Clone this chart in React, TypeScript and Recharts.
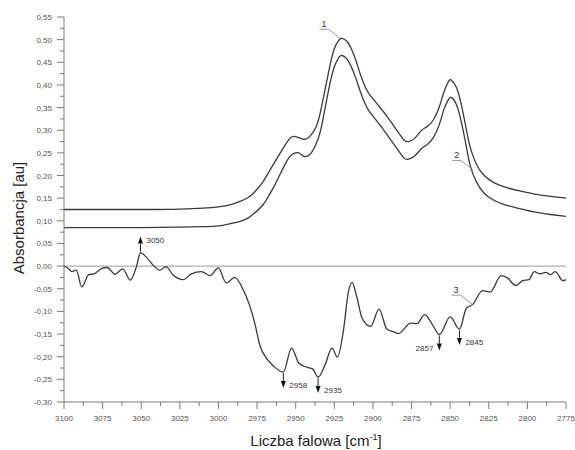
import React from "react";
import { ComposedChart, Line, XAxis, YAxis, ReferenceLine, ReferenceDot } from "recharts";

// ---- data ----
const wn1 = [3100, 3050, 3025, 3010, 3000, 2992, 2986, 2981, 2977, 2971, 2967, 2963, 2958, 2953.5, 2950, 2946, 2942, 2937, 2934, 2931, 2928, 2925, 2922, 2920, 2917, 2914, 2911, 2908, 2905, 2902, 2896, 2891, 2885, 2880, 2877, 2873, 2869, 2865, 2861, 2857, 2854, 2851, 2849, 2846, 2843, 2840, 2837, 2833, 2828, 2822, 2815, 2805, 2795, 2785, 2775];
const abs1 = [0.125, 0.125, 0.126, 0.128, 0.131, 0.136, 0.143, 0.151, 0.162, 0.187, 0.210, 0.233, 0.261, 0.283, 0.286, 0.281, 0.283, 0.306, 0.340, 0.390, 0.440, 0.480, 0.499, 0.503, 0.497, 0.480, 0.454, 0.422, 0.396, 0.378, 0.353, 0.331, 0.302, 0.279, 0.275, 0.282, 0.298, 0.308, 0.322, 0.352, 0.385, 0.408, 0.410, 0.395, 0.360, 0.310, 0.262, 0.225, 0.200, 0.185, 0.175, 0.166, 0.159, 0.154, 0.150];

const wn2 = [3100, 3050, 3025, 3010, 3000, 2992, 2986, 2981, 2977, 2971, 2967, 2963.4, 2957, 2952.6, 2948, 2945, 2941, 2937, 2934, 2931, 2928, 2925, 2922, 2920, 2917, 2914, 2911, 2908, 2905, 2902, 2896, 2891, 2885, 2880, 2877, 2873, 2869, 2865, 2861, 2857, 2854, 2851, 2849, 2846, 2843, 2840, 2837, 2833, 2828, 2822, 2815, 2805, 2795, 2785, 2775];
const abs2 = [0.085, 0.085, 0.086, 0.087, 0.089, 0.094, 0.099, 0.106, 0.116, 0.136, 0.158, 0.180, 0.224, 0.246, 0.250, 0.243, 0.246, 0.268, 0.298, 0.348, 0.400, 0.440, 0.461, 0.465, 0.458, 0.440, 0.414, 0.384, 0.358, 0.340, 0.314, 0.291, 0.262, 0.239, 0.236, 0.243, 0.258, 0.268, 0.283, 0.313, 0.346, 0.368, 0.372, 0.357, 0.322, 0.272, 0.222, 0.186, 0.161, 0.146, 0.136, 0.127, 0.119, 0.114, 0.110];

const wn3 = [3100, 3097, 3095, 3092, 3088.5, 3084, 3080.5, 3076, 3072, 3067, 3062, 3057, 3053, 3050.5, 3047, 3042.5, 3038, 3034, 3029.5, 3023, 3017.5, 3011, 3005.5, 3000, 2995, 2989.5, 2984, 2980, 2976.5, 2973, 2969, 2964.5, 2958, 2952.7, 2948, 2943, 2939, 2935.5, 2931, 2926.5, 2923, 2919, 2916, 2913.5, 2910.5, 2907, 2901.5, 2896, 2891, 2887.5, 2883.5, 2875.5, 2871.5, 2866.5, 2861.5, 2857, 2850, 2844, 2839.5, 2835.5, 2829, 2824, 2817, 2813, 2807.5, 2803, 2799, 2795.5, 2792, 2788, 2785, 2782, 2777, 2775];
const abs3 = [0.000, -0.006, -0.012, -0.009, -0.046, -0.019, -0.017, -0.006, -0.003, -0.018, -0.006, -0.031, 0.000, 0.030, 0.021, 0.003, -0.009, -0.001, -0.019, -0.030, -0.017, -0.012, -0.021, -0.004, -0.037, -0.025, -0.052, -0.085, -0.126, -0.177, -0.203, -0.220, -0.234, -0.181, -0.214, -0.223, -0.227, -0.245, -0.218, -0.181, -0.201, -0.140, -0.059, -0.036, -0.067, -0.115, -0.133, -0.095, -0.139, -0.144, -0.149, -0.126, -0.127, -0.107, -0.129, -0.151, -0.112, -0.139, -0.093, -0.085, -0.054, -0.057, -0.021, -0.026, -0.043, -0.032, -0.030, -0.012, -0.017, -0.014, -0.019, -0.012, -0.032, -0.030];

const xMajorTicks = [3100, 3075, 3050, 3025, 3000, 2975, 2950, 2925, 2900, 2875, 2850, 2825, 2800, 2775];
const xMinorTicks = [3087.5, 3062.5, 3037.5, 3012.5, 2987.5, 2962.5, 2937.5, 2912.5, 2887.5, 2862.5, 2837.5, 2812.5, 2787.5];
const yMajorTicks = [-0.3, -0.25, -0.2, -0.15, -0.1, -0.05, 0, 0.05, 0.1, 0.15, 0.2, 0.25, 0.3, 0.35, 0.4, 0.45, 0.5, 0.55];
const yMinorTicks = [-0.275, -0.225, -0.175, -0.125, -0.075, -0.025, 0.025, 0.075, 0.125, 0.175, 0.225, 0.275, 0.325, 0.375, 0.425, 0.475, 0.525];

// peak markers: wavenumber, value on curve 3, direction, label side
const markWn = [3050.5, 2958, 2935.5, 2857, 2844];
const markVal = [0.030, -0.234, -0.245, -0.151, -0.139];
const markLabels = ["3050", "2958", "2935", "2857", "2845"];
const markUp = [true, false, false, false, false];
const markLeft = [false, false, false, true, false];

// curve labels: anchor on curve
const curveLabels = ["1", "2", "3"];
const curveLabelWn = [2921, 2835, 2835.5];
const curveLabelVal = [0.502, 0.212, -0.085];

const FONT = "'Liberation Sans', Arial, Helvetica, sans-serif";
const AXIS = "#7a7a7a";
const LINE = "#3a3a3a";

const d1 = wn1.map((w, i) => ({ wn: w, v: abs1[i] }));
const d2 = wn2.map((w, i) => ({ wn: w, v: abs2[i] }));
const d3 = wn3.map((w, i) => ({ wn: w, v: abs3[i] }));

const isMajor = (arr: number[], v: number) => arr.some((m) => Math.abs(m - v) < 1e-6);

const YTick = (props: any) => {
  const { x, y, payload } = props;
  const major = isMajor(yMajorTicks, payload.value);
  return (
    <g>
      <line x1={x} x2={x - (major ? 7 : 4)} y1={y} y2={y} stroke={AXIS} strokeWidth={1} />
      {major && (
        <text x={x - 12} y={y + 3} textAnchor="end" fontSize={8} fill="#555" fontFamily={FONT}>
          {payload.value.toFixed(2).replace(".", ",")}
        </text>
      )}
    </g>
  );
};

const XTick = (props: any) => {
  const { x, y, payload } = props;
  const major = isMajor(xMajorTicks, payload.value);
  return (
    <g>
      <line x1={x} x2={x} y1={y} y2={y + (major ? 7 : 4)} stroke={AXIS} strokeWidth={1} />
      {major && (
        <text x={x} y={y + 19} textAnchor="middle" fontSize={8} fill="#555" fontFamily={FONT}>
          {payload.value}
        </text>
      )}
    </g>
  );
};

const makeMarker = (i: number) => (props: any) => {
  const { cx, cy } = props;
  if (cx == null || cy == null) return <g />;
  const up = markUp[i];
  const len = 16;
  const tip = up ? cy - len : cy + len;
  const head = up ? tip + 7 : tip - 7;
  const lx = markLeft[i] ? cx - 6 : cx + 6;
  const ly = up ? cy - 10 : cy + 16;
  return (
    <g>
      <line x1={cx} x2={cx} y1={cy + (up ? -1 : 1)} y2={head} stroke="#222" strokeWidth={1} />
      <polygon points={`${cx},${tip} ${cx - 2.5},${head} ${cx + 2.5},${head}`} fill="#111" />
      <text x={lx} y={ly} textAnchor={markLeft[i] ? "end" : "start"} fontSize={8} fill="#333" fontFamily={FONT}>
        {markLabels[i]}
      </text>
    </g>
  );
};

const makeCurveLabel = (i: number) => (props: any) => {
  const { cx, cy } = props;
  if (cx == null || cy == null) return <g />;
  return (
    <g>
      <polyline
        points={`${cx},${cy} ${cx - 12},${cy - 9.5} ${cx - 21},${cy - 9.5}`}
        fill="none"
        stroke="#8a8a8a"
        strokeWidth={0.9}
      />
      <text x={cx - 16.5} y={cy - 12} textAnchor="middle" fontSize={9} fill="#333" fontFamily={FONT}>
        {curveLabels[i]}
      </text>
    </g>
  );
};

const YTitle = (props: any) => {
  const vb = props.viewBox || { x: 0, y: 17, width: 64, height: 385 };
  const cx = vb.x + 18;
  const cy = 218;
  return (
    <text
      x={cx}
      y={cy}
      transform={`rotate(-90, ${cx}, ${cy})`}
      textAnchor="middle"
      dominantBaseline="central"
      fontSize={15}
      fill="#222"
      fontFamily={FONT}
    >
      Absorbancja [au]
    </text>
  );
};

const XTitle = (props: any) => {
  const vb = props.viewBox || { x: 64, y: 402, width: 502, height: 48 };
  const cx = vb.x + vb.width / 2 + 1;
  return (
    <text x={cx} y={446} textAnchor="middle" fontSize={15} fill="#222" fontFamily={FONT}>
      Liczba falowa [cm
      <tspan dy={-6} fontSize={9}>-1</tspan>
      <tspan dy={6}>]</tspan>
    </text>
  );
};

export default function App() {
  return (
    <div style={{ position: "absolute", left: 0, top: 0, width: 575, height: 450, background: "#fff" }}>
      <ComposedChart width={575} height={450} margin={{ top: 17, right: 9, bottom: 0, left: 0 }}>
        <XAxis
          dataKey="wn"
          type="number"
          domain={[2775, 3100]}
          reversed
          allowDataOverflow
          ticks={[...xMajorTicks, ...xMinorTicks].sort((a, b) => b - a)}
          interval={0}
          height={48}
          tickSize={0}
          tickMargin={0}
          tickLine={false}
          axisLine={{ stroke: AXIS, strokeWidth: 1 }}
          tick={(p: any) => <XTick {...p} />}
          label={{ content: (p: any) => <XTitle {...p} /> }}
        />
        <YAxis
          type="number"
          domain={[-0.3, 0.55]}
          allowDataOverflow
          ticks={[...yMajorTicks, ...yMinorTicks].sort((a, b) => a - b)}
          interval={0}
          width={64}
          tickSize={0}
          tickMargin={0}
          tickLine={false}
          axisLine={{ stroke: AXIS, strokeWidth: 1 }}
          tick={(p: any) => <YTick {...p} />}
          label={{ content: (p: any) => <YTitle {...p} /> }}
        />
        <ReferenceLine y={0} stroke="#9a9a9a" strokeWidth={1} />
        <Line data={d1} dataKey="v" type="natural" stroke={LINE} strokeWidth={1.3} dot={false} isAnimationActive={false} />
        <Line data={d2} dataKey="v" type="natural" stroke={LINE} strokeWidth={1.3} dot={false} isAnimationActive={false} />
        <Line data={d3} dataKey="v" type="monotone" stroke={LINE} strokeWidth={1.3} dot={false} isAnimationActive={false} />
        {markWn.map((w, i) => (
          <ReferenceDot key={"m" + i} x={w} y={markVal[i]} r={0} shape={makeMarker(i)} />
        ))}
        {curveLabelWn.map((w, i) => (
          <ReferenceDot key={"c" + i} x={w} y={curveLabelVal[i]} r={0} shape={makeCurveLabel(i)} />
        ))}
      </ComposedChart>
    </div>
  );
}
